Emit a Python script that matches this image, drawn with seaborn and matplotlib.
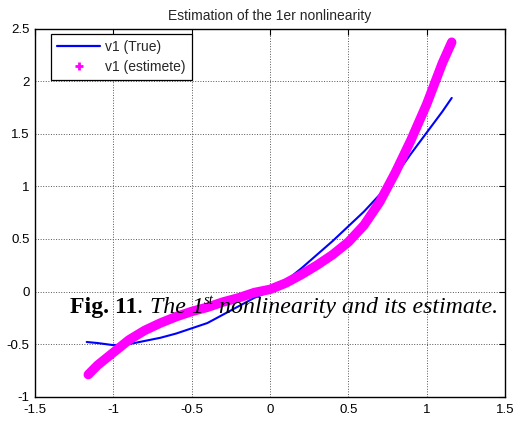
import matplotlib
matplotlib.use("Agg")
import numpy as np
import pandas as pd
import matplotlib.pyplot as plt
from matplotlib.lines import Line2D
from matplotlib.ticker import FormatStrFormatter
import seaborn as sns

# values
x_true = [-1.17, -1.1, -1.0, -0.9, -0.8, -0.7, -0.6, -0.5, -0.4, -0.3, -0.2, -0.1,
          0.0, 0.1, 0.2, 0.3, 0.4, 0.5, 0.6, 0.7, 0.8, 0.9, 1.0, 1.1, 1.16]
y_true = [-0.48, -0.49, -0.51, -0.50, -0.47, -0.44, -0.40, -0.35, -0.30, -0.22, -0.14, -0.06,
          0.0, 0.10, 0.22, 0.35, 0.48, 0.62, 0.76, 0.92, 1.10, 1.31, 1.51, 1.71, 1.84]

x_est = [-1.16, -1.1, -1.0, -0.9, -0.8, -0.7, -0.6, -0.5, -0.4, -0.3, -0.2, -0.1,
         0.0, 0.1, 0.2, 0.3, 0.4, 0.5, 0.6, 0.7, 0.8, 0.9, 1.0, 1.1, 1.16]
y_est = [-0.79, -0.70, -0.58, -0.46, -0.37, -0.30, -0.24, -0.19, -0.15, -0.10, -0.06, -0.01,
         0.02, 0.08, 0.16, 0.25, 0.35, 0.47, 0.63, 0.85, 1.13, 1.44, 1.78, 2.17, 2.37]

x_ticks = [-1.5, -1.0, -0.5, 0.0, 0.5, 1.0, 1.5]
y_ticks = [-1.0, -0.5, 0.0, 0.5, 1.0, 1.5, 2.0, 2.5]

# caption pieces: (text, weight, style, size scale, raise in em)
caption = [("Fig. 11", "bold", "normal", 1.0, 0.0),
           (". ", "normal", "normal", 1.0, 0.0),
           ("The 1", "normal", "italic", 1.0, 0.0),
           ("st", "normal", "italic", 0.62, 0.38),
           (" nonlinearity and its estimate.", "normal", "italic", 1.0, 0.0)]

sns.set_style("white")
plt.rcParams['font.family'] = ['Liberation Sans', 'DejaVu Sans']

df_true = pd.DataFrame({'x': x_true, 'y': y_true})
df_est = pd.DataFrame({'x': x_est, 'y': y_est})

W, H = 514, 421
fig = plt.figure(figsize=(W / 100, H / 100), dpi=100)
ax = fig.add_axes([35 / W, 1 - 396.7 / H, 470 / W, 368.2 / H])

# estimate: dense '+' markers forming a thick band
sns.lineplot(data=df_est, x='x', y='y', color='#ff00ff', linewidth=6.8,
             estimator=None, sort=False, ax=ax, zorder=3)
sns.lineplot(data=df_true, x='x', y='y', color='#0000ff', linewidth=1.5,
             estimator=None, sort=False, ax=ax, zorder=2)

ax.set_xlim(-1.5, 1.5)
ax.set_ylim(-1, 2.5)
ax.set_xticks(x_ticks)
ax.set_yticks(y_ticks)
ax.xaxis.set_major_formatter(FormatStrFormatter('%g'))
ax.yaxis.set_major_formatter(FormatStrFormatter('%g'))
ax.set_xlabel('')
ax.set_ylabel('')
ax.tick_params(direction='in', length=4, width=0.8, labelsize=9.5, colors='black',
               top=True, right=True)
ax.tick_params(axis='x', pad=5.5)
ax.tick_params(axis='y', pad=4)
ax.grid(True, color='#555555', linestyle=':', linewidth=0.7)
for sp in ax.spines.values():
    sp.set_color('black')
    sp.set_linewidth(1.0)

ax.set_title('Estimation of the 1er nonlinearity', fontsize=10, pad=6)

handles = [Line2D([], [], color='#0000ff', linewidth=1.6),
           Line2D([], [], color='#ff00ff', linestyle='none', marker='+',
                  markersize=6, markeredgewidth=2)]
leg = ax.legend(handles, ['v1 (True)', 'v1 (estimete)'], loc='upper left',
                bbox_to_anchor=(16 / 470, 1 - 5.5 / 368), borderaxespad=0,
                fontsize=10, fancybox=False, framealpha=1, edgecolor='black',
                handlelength=3.1, handletextpad=0.35, labelspacing=0.4,
                borderpad=0.45)
leg.get_frame().set_linewidth(0.9)

# overlaid figure caption, drawn piece by piece
cap_size = 17.2
renderer = fig.canvas.get_renderer()
x_px, base_px = 70, 313
for text, weight, style, scale, lift in caption:
    t = fig.text(x_px / W, 1 - (base_px - lift * cap_size * 100 / 72) / H, text,
                 fontsize=cap_size * scale, fontweight=weight, fontstyle=style,
                 family=['Liberation Serif', 'DejaVu Serif'], ha='left', va='baseline',
                 color='black', zorder=10)
    bb = t.get_window_extent(renderer)
    x_px = bb.x1

fig.savefig('out.png', dpi=100)
